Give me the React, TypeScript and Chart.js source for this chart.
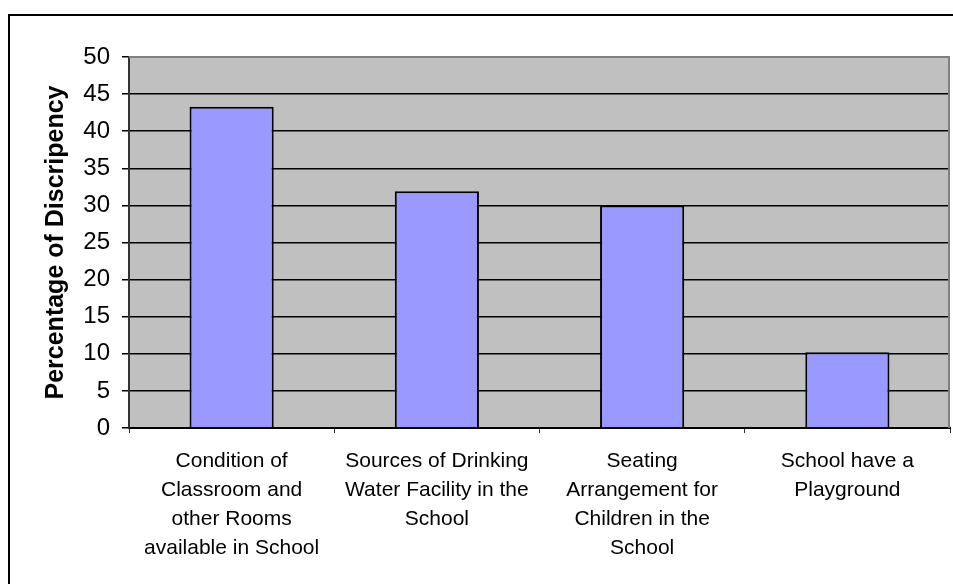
import React, { useEffect, useRef } from "react";
import { Chart, registerables } from "chart.js";

Chart.register(...registerables);

const categories: string[][] = [
  ["Condition of", "Classroom and", "other Rooms", "available in School"],
  ["Sources of Drinking", "Water Facility in the", "School"],
  ["Seating", "Arrangement for", "Children in the", "School"],
  ["School have a", "Playground"],
];
const discrepancy: number[] = [43.3, 31.9, 30.0, 10.2];
const yTitle = "Percentage of Discripency";
const yMin = 0;
const yMax = 50;
const yStep = 5;

const FONT = "'Liberation Sans', Arial, sans-serif";

export default function App() {
  const ref = useRef<HTMLCanvasElement | null>(null);

  useEffect(() => {
    if (!ref.current) return;
    const decor = {
      id: "decor",
      beforeDraw(chart: any) {
        const { ctx, chartArea } = chart;
        ctx.save();
        ctx.fillStyle = "#ffffff";
        ctx.fillRect(0, 0, chart.width, chart.height);
        ctx.strokeStyle = "#000000";
        ctx.lineWidth = 2;
        ctx.beginPath();
        ctx.moveTo(9, chart.height + 2);
        ctx.lineTo(9, 15);
        ctx.lineTo(chart.width + 2, 15);
        ctx.stroke();
        ctx.fillStyle = "#C0C0C0";
        ctx.fillRect(chartArea.left, chartArea.top, chartArea.right - chartArea.left, chartArea.bottom - chartArea.top);
        ctx.restore();
      },
      afterDatasetsDraw(chart: any) {
        const { ctx, chartArea } = chart;
        ctx.save();
        ctx.strokeStyle = "#808080";
        ctx.lineWidth = 2;
        ctx.beginPath();
        ctx.moveTo(chartArea.left, chartArea.top);
        ctx.lineTo(chartArea.right - 1, chartArea.top);
        ctx.lineTo(chartArea.right - 1, chartArea.bottom);
        ctx.stroke();
        ctx.restore();
      },
    };

    const chart = new Chart(ref.current, {
      type: "bar",
      data: {
        labels: categories,
        datasets: [
          {
            data: discrepancy,
            backgroundColor: "#9999FF",
            borderColor: "#000000",
            borderWidth: 2,
            categoryPercentage: 1,
            barPercentage: 0.41,
          },
        ],
      },
      options: {
        responsive: false,
        animation: false,
        devicePixelRatio: 1,
        layout: { padding: { left: 0, top: 57, right: 3, bottom: 0 } },
        plugins: { legend: { display: false }, tooltip: { enabled: false } },
        scales: {
          x: {
            grid: {
              offset: true,
              drawOnChartArea: false,
              drawTicks: true,
              tickLength: 5,
              color: "#333333",
            },
            border: { color: "#000000", width: 2 },
            ticks: {
              color: "#000000",
              font: { family: FONT, size: 21, lineHeight: 1.38 },
              padding: 14,
              maxRotation: 0,
              autoSkip: false,
            },
            afterFit(scale: any) {
              scale.height = 156;
            },
          },
          y: {
            min: yMin,
            max: yMax,
            ticks: {
              stepSize: yStep,
              color: "#000000",
              font: { family: FONT, size: 24 },
              padding: 12,
            },
            grid: {
              color: "#000000",
              lineWidth: 1.5,
              tickLength: 7,
            },
            border: { color: "#333333", width: 2 },
            title: {
              display: true,
              text: yTitle,
              color: "#000000",
              font: { family: FONT, size: 25, weight: "bold", lineHeight: 1.2 },
              padding: { top: 41, bottom: 0 },
            },
            afterFit(scale: any) {
              scale.width = 129;
            },
          },
        },
      },
      plugins: [decor],
    });
    return () => chart.destroy();
  }, []);

  return (
    <div style={{ position: "fixed", left: 0, top: 0, width: 953, height: 584, background: "#fff" }}>
      <canvas ref={ref} width={953} height={584} style={{ display: "block" }} />
    </div>
  );
}
